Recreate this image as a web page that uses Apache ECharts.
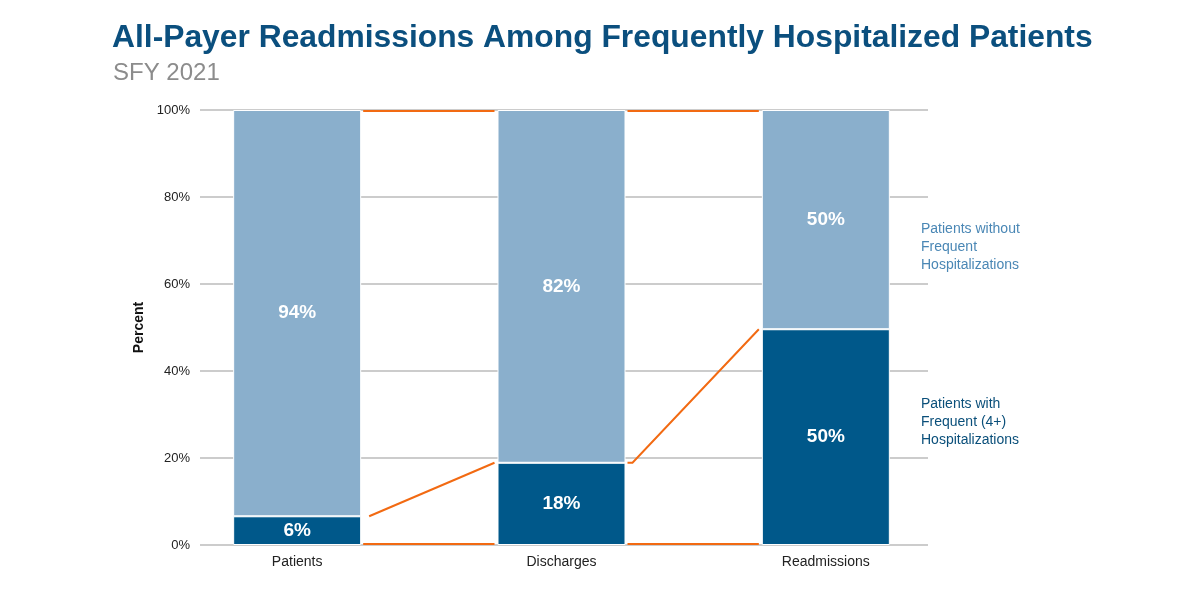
<!DOCTYPE html>
<html>
<head>
<meta charset="utf-8">
<script src="https://cdn.jsdelivr.net/npm/echarts@6/dist/echarts.min.js"></script>
<style>html,body{margin:0;padding:0;background:#fff}#c{width:1200px;height:600px}</style>
</head>
<body>
<div id="c"></div>
<script>
const categories = ['Patients', 'Discharges', 'Readmissions'];
const frequentValues = [6.6, 18.9, 49.6];
const withoutValues = [93.4, 81.1, 50.4];
const frequentLabels = ['6%', '18%', '50%'];
const withoutLabels = ['94%', '82%', '50%'];
const yTicks = [0, 20, 40, 60, 80, 100];

const DARK = '#00588a';
const LIGHT = '#8aafcc';
const ORANGE = '#f26a12';
const FONT = '"Liberation Sans", Arial, Helvetica, sans-serif';
const BAR_W = 128;

const chart = echarts.init(document.getElementById('c'));

const connectorData = [];
for (let i = 0; i < categories.length - 1; i++) {
  connectorData.push([i, frequentValues[i], frequentValues[i + 1]]);
}

chart.setOption({
  animation: false,
  title: [
    { text: 'All-Payer Readmissions Among Frequently Hospitalized Patients', left: 107, top: 17,
      textStyle: { color: '#0b4f7e', fontSize: 31.8, fontWeight: 'bold', fontFamily: FONT } },
    { text: 'SFY 2021', left: 108, top: 56,
      textStyle: { color: '#8c8c8c', fontSize: 24, fontWeight: 'normal', fontFamily: FONT } }
  ],
  grid: [
    { left: 165, width: 793, top: 110, height: 435 },
    { left: 200, width: 728, top: 110, height: 435 }
  ],
  xAxis: [
    { type: 'category', data: categories, gridIndex: 0,
      axisLine: { show: false }, axisTick: { show: false },
      axisLabel: { color: '#222', fontSize: 14, fontFamily: FONT, margin: 10 } },
    { type: 'value', gridIndex: 1, show: false, min: 0, max: 1 }
  ],
  yAxis: [
    { type: 'value', gridIndex: 0, min: 0, max: 100, interval: 20, show: false },
    { type: 'value', gridIndex: 1, min: yTicks[0], max: yTicks[yTicks.length - 1], interval: 20,
      name: 'Percent', nameLocation: 'middle', nameGap: 52, nameRotate: 90,
      nameTextStyle: { color: '#111', fontSize: 14, fontWeight: 'bold', fontFamily: FONT },
      axisLine: { show: false }, axisTick: { show: false },
      axisLabel: { color: '#222', fontSize: 13, fontFamily: FONT, margin: 10, formatter: v => v + '%' },
      splitLine: { lineStyle: { color: '#cccccc', width: 2 } } }
  ],
  series: [
    { type: 'bar', name: 'Patients with Frequent (4+) Hospitalizations', stack: 's', barWidth: BAR_W,
      xAxisIndex: 0, yAxisIndex: 0, z: 3,
      data: frequentValues,
      itemStyle: { color: DARK, borderColor: '#ffffff', borderWidth: 1 },
      label: { show: true, position: 'inside', color: '#fff', fontSize: 19, fontWeight: 'bold', fontFamily: FONT,
        formatter: p => frequentLabels[p.dataIndex] } },
    { type: 'bar', name: 'Patients without Frequent Hospitalizations', stack: 's', barWidth: BAR_W,
      xAxisIndex: 0, yAxisIndex: 0, z: 3,
      data: withoutValues,
      itemStyle: { color: LIGHT, borderColor: '#ffffff', borderWidth: 1 },
      label: { show: true, position: 'inside', color: '#fff', fontSize: 19, fontWeight: 'bold', fontFamily: FONT,
        formatter: p => withoutLabels[p.dataIndex] } },
    { type: 'custom', xAxisIndex: 0, yAxisIndex: 0, z: 4, data: connectorData,
      renderItem: function (params, api) {
        const i = api.value(0);
        const a = api.value(1), b = api.value(2);
        const xs = api.coord([i, 0])[0] + BAR_W / 2 + 2;
        const xe = api.coord([i + 1, 0])[0] - BAR_W / 2 - 3;
        const yTop = api.coord([i, 100])[1] + 1;
        const yBot = api.coord([i, 0])[1] - 1;
        const ya = api.coord([i, a])[1];
        const yb = api.coord([i + 1, b])[1];
        const st = { stroke: ORANGE, lineWidth: 2, fill: null };
        const pts = i > 0 ? [[xs, ya], [xs + 5, ya], [xe, yb]] : [[xs + 6, ya], [xe, yb]];
        return { type: 'group', children: [
          { type: 'line', shape: { x1: xs, y1: yTop, x2: xe, y2: yTop }, style: st },
          { type: 'line', shape: { x1: xs, y1: yBot, x2: xe, y2: yBot }, style: st },
          { type: 'polyline', shape: { points: pts }, style: st }
        ] };
      } }
  ],
  graphic: [
    { type: 'text', left: 921, top: 220,
      style: { text: 'Patients without\nFrequent\nHospitalizations', fill: '#4a87b5', font: '14px ' + FONT, lineHeight: 18 } },
    { type: 'text', left: 921, top: 395,
      style: { text: 'Patients with\nFrequent (4+)\nHospitalizations', fill: '#0a4f7a', font: '14px ' + FONT, lineHeight: 18 } }
  ]
});
</script>
</body>
</html>
